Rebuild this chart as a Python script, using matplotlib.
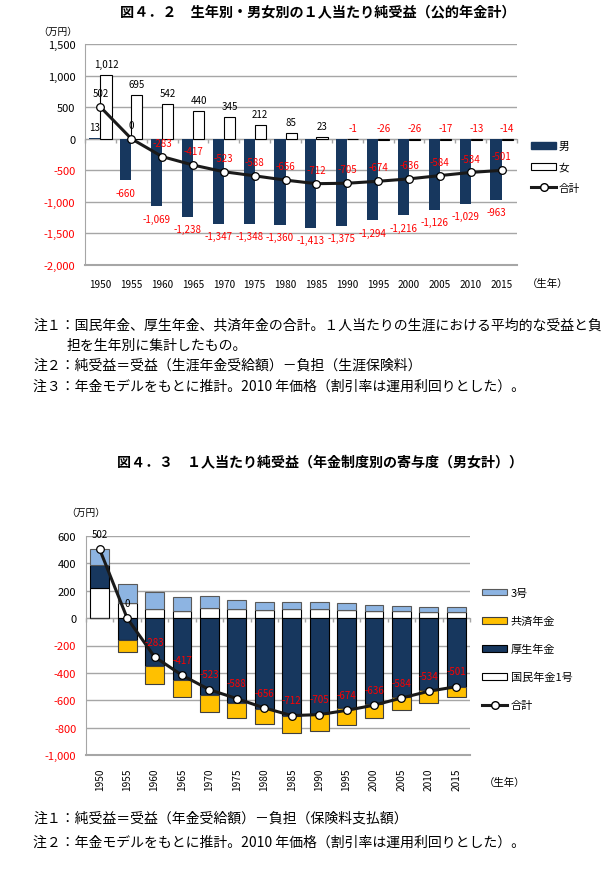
import matplotlib
matplotlib.use("Agg")
import matplotlib.pyplot as plt
import numpy as np
from matplotlib.patches import Patch
from matplotlib.lines import Line2D

plt.rcParams["font.family"] = ["Noto Sans CJK JP", "DejaVu Sans"]

# =====================================
# DATA
# =====================================

years = [1950, 1955, 1960, 1965, 1970, 1975, 1980,
         1985, 1990, 1995, 2000, 2005, 2010, 2015]

male = [13, -660, -1069, -1238, -1347, -1348, -1360,
        -1413, -1375, -1294, -1216, -1126, -1029, -963]
female = [1012, 695, 542, 440, 345, 212, 85,
          23, -1, -26, -26, -17, -13, -14]
total = [502, 0, -283, -417, -523, -588, -656,
         -712, -705, -674, -636, -584, -534, -501]

kokumin1 = [218, 113, 66, 49, 74, 64, 56, 64, 64, 56, 49, 49, 42, 42]
kosei = [172, -159, -353, -451, -564, -618, -662,
         -716, -698, -654, -630, -576, -527, -500]
kyosai = [0, -86, -125, -127, -120, -110, -113,
          -122, -126, -125, -103, -98, -91, -76]
sango = [112, 135, 125, 105, 90, 71, 64, 56, 56, 52, 49, 42, 41, 36]

ticks1 = [1500, 1000, 500, 0, -500, -1000, -1500, -2000]
ticks2 = [600, 400, 200, 0, -200, -400, -600, -800, -1000]

NAVY = "#17375E"
YELLOW = "#FFC000"
LBLUE = "#8DB4E2"
RED = "#FF0000"
GRID = "#A6A6A6"

W, H = 607, 870
fig = plt.figure(figsize=(W / 100, H / 100), dpi=100)


def px_axes(left, top, right, bottom):
    return fig.add_axes([left / W, 1 - bottom / H,
                         (right - left) / W, (bottom - top) / H])


def fmt(v):
    return f"{v:,}"


def style_axes(ax, ticks, n):
    ax.set_yticks(ticks)
    ax.set_yticklabels([fmt(t) for t in ticks], fontsize=8)
    for lab, t in zip(ax.get_yticklabels(), ticks):
        lab.set_color(RED if t < 0 else "black")
    ax.tick_params(axis="y", length=0, pad=7)
    ax.grid(axis="y", color=GRID, linewidth=1)
    ax.set_axisbelow(True)
    for s in ["top", "right"]:
        ax.spines[s].set_visible(False)
    ax.spines["left"].set_color(GRID)
    ax.spines["bottom"].set_color(GRID)
    ax.spines["bottom"].set_linewidth(1.5)

    # category axis on the zero line, ticks at boundaries
    lo, hi = ax.get_ylim()
    sec = ax.secondary_xaxis((0 - lo) / (hi - lo))
    sec.set_xticks(np.arange(-0.5, n, 1.0))
    sec.set_xticklabels([])
    sec.tick_params(direction="in", length=3, color=GRID, width=1)
    for sp in sec.spines.values():
        sp.set_color(GRID)


x = np.arange(len(years))

# =====================================
# CHART 1
# =====================================

fig.text(318 / W, 1 - 13 / H,
         "図４．２　生年別・男女別の１人当たり純受益（公的年金計）",
         ha="center", va="center", fontsize=10.2, fontweight="bold")
fig.text(38 / W, 1 - 32 / H, "（万円）", ha="left", va="center", fontsize=7)

ax1 = px_axes(85, 45, 517, 266)
bw = 0.36
ax1.bar(x - bw / 2, male, width=bw, color=NAVY, label="男", zorder=2)
ax1.bar(x + bw / 2, female, width=bw, color="white",
        edgecolor="black", linewidth=0.8, label="女", zorder=2)
ax1.plot(x, total, "-o", color="#1a1a1a", linewidth=2.2,
         markersize=5.5, markerfacecolor="white",
         markeredgecolor="black", markeredgewidth=0.9, zorder=3)

for xi, v in zip(x, male):
    ax1.annotate(fmt(v), (xi - bw / 2, v),
                 xytext=(0, 8 if v >= 0 else -9),
                 textcoords="offset points", ha="center", va="center",
                 fontsize=7, color=RED if v < 0 else "black")
for xi, v in zip(x, female):
    ax1.annotate(fmt(v), (xi + bw / 2, max(v, 0)),
                 xytext=(0, 8), textcoords="offset points",
                 ha="center", va="center", fontsize=7,
                 color=RED if v < 0 else "black")
for xi, v in zip(x, total):
    ax1.annotate(fmt(v), (xi, v), xytext=(0, 10),
                 textcoords="offset points", ha="center", va="center",
                 fontsize=7, color=RED if v < 0 else "black", zorder=4)

ax1.set_xlim(-0.5, len(years) - 0.5)
ax1.set_ylim(-2000, 1500)
ax1.set_xticks(x)
ax1.set_xticklabels([str(y) for y in years], fontsize=7.2)
ax1.tick_params(axis="x", length=0, pad=10)
style_axes(ax1, ticks1, len(years))
fig.text(548 / W, 1 - 284 / H, "（生年）", ha="center", va="center",
         fontsize=7.5)

h1 = [Patch(facecolor=NAVY, edgecolor=NAVY),
      Patch(facecolor="white", edgecolor="black", linewidth=0.8),
      Line2D([], [], color="#1a1a1a", linewidth=2.2, marker="o",
             markersize=5.5, markerfacecolor="white",
             markeredgecolor="black")]
ax1.legend(h1, ["男", "女", "合計"], loc="center left",
           bbox_to_anchor=(1.01, 0.443), frameon=False, fontsize=7.7,
           handlelength=2.35, handleheight=0.65, labelspacing=1.0,
           handletextpad=0.25)

notes1 = [
    (33, 325, "注１：国民年金、厚生年金、共済年金の合計。１人当たりの生涯における平均的な受益と負"),
    (67, 346, "担を生年別に集計したもの。"),
    (33, 366, "注２：純受益＝受益（生涯年金受給額）－負担（生涯保険料）"),
    (33, 387, "注３：年金モデルをもとに推計。2010 年価格（割引率は運用利回りとした）。"),
]
for nx, ny, t in notes1:
    fig.text(nx / W, 1 - ny / H, t, ha="left", va="center", fontsize=10)

# =====================================
# CHART 2
# =====================================

fig.text(320 / W, 1 - 462 / H,
         "図４．３　１人当たり純受益（年金制度別の寄与度（男女計））",
         ha="center", va="center", fontsize=10.1, fontweight="bold")
fig.text(66 / W, 1 - 513 / H, "（万円）", ha="left", va="center", fontsize=7)

ax2 = px_axes(86, 537, 470, 756)
bw2 = 0.69
k1 = np.array(kokumin1)
ks = np.array(kosei)
ky = np.array(kyosai)
sg = np.array(sango)

pos_ks = np.where(ks > 0, ks, 0)
neg_ks = np.where(ks < 0, ks, 0)

ax2.bar(x, k1, width=bw2, color="white", edgecolor="black",
        linewidth=0.8, zorder=2)
ax2.bar(x, pos_ks, bottom=k1, width=bw2, color=NAVY,
        edgecolor="black", linewidth=0.8, zorder=2)
ax2.bar(x, neg_ks, width=bw2, color=NAVY,
        edgecolor="black", linewidth=0.8, zorder=2)
ax2.bar(x, ky, bottom=neg_ks, width=bw2, color=YELLOW,
        edgecolor="#3f3f3f", linewidth=0.8, zorder=2)
ax2.bar(x, sg, bottom=k1 + pos_ks, width=bw2, color=LBLUE,
        edgecolor="#595959", linewidth=0.8, zorder=2)
ax2.plot(x, total, "-o", color="#1a1a1a", linewidth=2.2,
         markersize=5.5, markerfacecolor="white",
         markeredgecolor="black", markeredgewidth=0.9, zorder=3)

for xi, v in zip(x, total):
    ax2.annotate(fmt(v), (xi, v), xytext=(0, 11),
                 textcoords="offset points", ha="center", va="center",
                 fontsize=7, color=RED if v < 0 else "black", zorder=4)

ax2.set_xlim(-0.5, len(years) - 0.5)
ax2.set_ylim(-1000, 600)
ax2.set_xticks(x)
ax2.set_xticklabels([str(y) for y in years], fontsize=7.3,
                    rotation=90)
ax2.tick_params(axis="x", length=0, pad=9)
style_axes(ax2, ticks2, len(years))
fig.text(505 / W, 1 - 783 / H, "（生年）", ha="center", va="center",
         fontsize=7.5)

h2 = [Patch(facecolor=LBLUE, edgecolor="#595959", linewidth=0.8),
      Patch(facecolor=YELLOW, edgecolor="#3f3f3f", linewidth=0.8),
      Patch(facecolor=NAVY, edgecolor="black", linewidth=0.8),
      Patch(facecolor="white", edgecolor="black", linewidth=0.8),
      Line2D([], [], color="#1a1a1a", linewidth=2.2, marker="o",
             markersize=5.5, markerfacecolor="white",
             markeredgecolor="black")]
ax2.legend(h2, ["3号", "共済年金", "厚生年金", "国民年金1号", "合計"],
           loc="center left", bbox_to_anchor=(1.005, 0.484),
           frameon=False, fontsize=8, handlelength=2.3,
           handleheight=0.55, labelspacing=1.6, handletextpad=0.3)

notes2 = [
    (33, 819, "注１：純受益＝受益（年金受給額）－負担（保険料支払額）"),
    (33, 843, "注２：年金モデルをもとに推計。2010 年価格（割引率は運用利回りとした）。"),
]
for nx, ny, t in notes2:
    fig.text(nx / W, 1 - ny / H, t, ha="left", va="center", fontsize=10)

fig.savefig("out.png", dpi=100)
